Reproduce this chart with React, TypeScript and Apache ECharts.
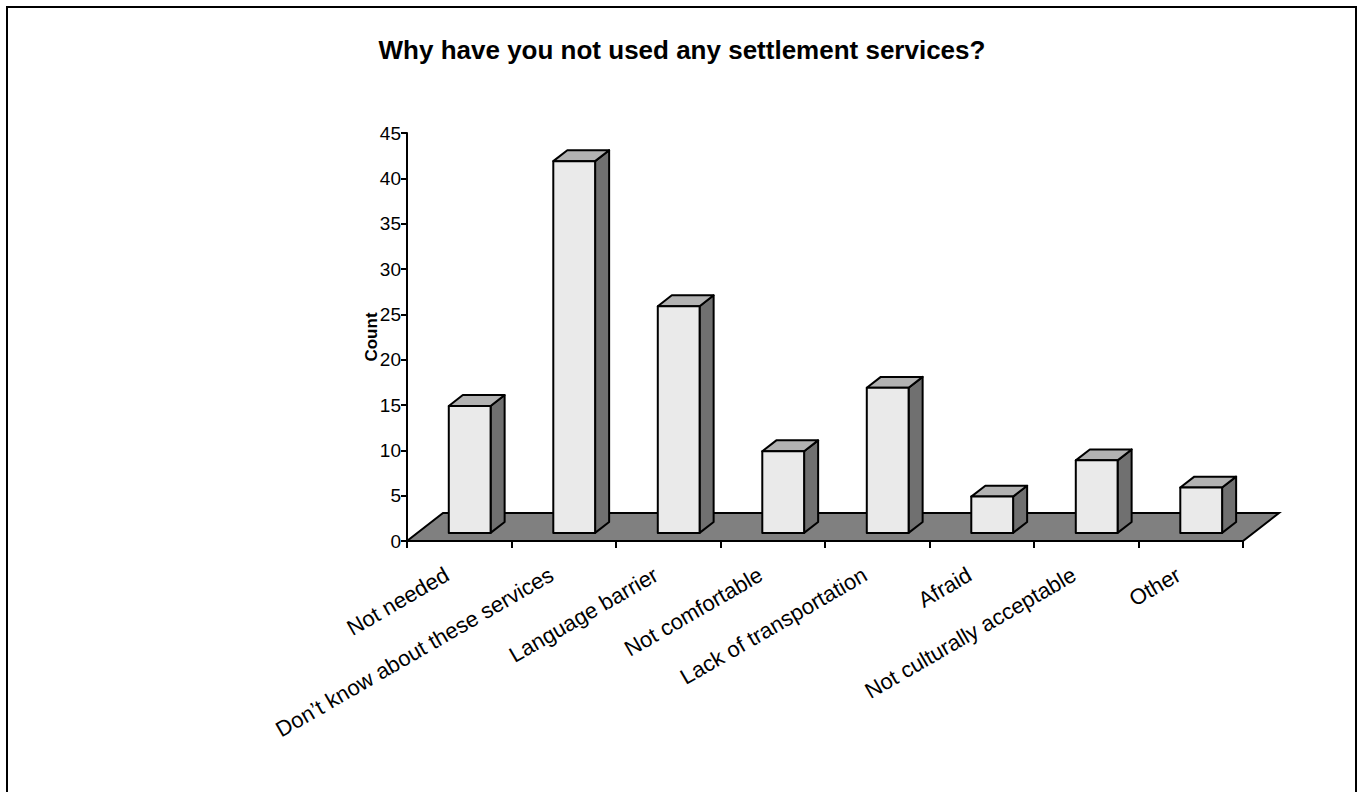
import React, { useEffect, useRef } from "react";
import * as echarts from "echarts";

const categories = [
  "Not needed",
  "Don’t know about these services",
  "Language barrier",
  "Not comfortable",
  "Lack of transportation",
  "Afraid",
  "Not culturally acceptable",
  "Other",
];
const counts = [14, 41, 25, 9, 16, 4, 8, 5];
const yTicks = { min: 0, max: 45, interval: 5 };
const titleText = "Why have you not used any settlement services?";
const yAxisName = "Count";

const FONT = "'Liberation Sans', Arial, Helvetica, sans-serif";
// floor depth (pixels, oblique projection)
const DX = 36;
const DY = -28;
const F1 = 0.29; // bar front plane fraction of depth
const F2 = 0.68; // bar back plane fraction of depth
const BAR_FRAC = 0.4;

export default function App() {
  const ref = useRef<HTMLDivElement>(null);
  useEffect(() => {
    if (!ref.current) return;
    const chart = echarts.init(ref.current, null, { renderer: "svg" });
    const n = categories.length;
    chart.setOption({
      animation: false,
      backgroundColor: "#ffffff",
      title: {
        text: titleText,
        left: "center",
        top: 32,
        textStyle: { fontFamily: FONT, fontSize: 26, fontWeight: "bold", color: "#000" },
      },
      graphic: [
        {
          type: "rect",
          shape: { x: 7, y: 7, width: 1349, height: 800 },
          style: { fill: "none", stroke: "#000", lineWidth: 2 },
          silent: true,
        },
      ],
      grid: { left: 407, right: 121, top: 133, bottom: 251, containLabel: false },
      xAxis: {
        type: "category",
        data: categories,
        boundaryGap: true,
        axisLine: { lineStyle: { color: "#000", width: 2 } },
        axisTick: { show: true, length: 7, lineStyle: { color: "#000", width: 2 } },
        axisLabel: {
          rotate: 30,
          interval: 0,
          margin: 25,
          padding: [0, 14, 0, 0],
          color: "#000",
          fontFamily: FONT,
          fontSize: 22,
        },
        splitLine: { show: false },
      },
      yAxis: {
        type: "value",
        min: yTicks.min,
        max: yTicks.max,
        interval: yTicks.interval,
        name: yAxisName,
        nameLocation: "middle",
        nameRotate: 90,
        nameGap: 27,
        nameMoveOverlap: false,
        nameTextStyle: { fontFamily: FONT, fontSize: 17, fontWeight: "bold", color: "#000" },
        axisLine: { show: true, lineStyle: { color: "#000", width: 2 } },
        axisTick: { show: true, length: 6, lineStyle: { color: "#000", width: 2 } },
        axisLabel: { color: "#000", fontFamily: FONT, fontSize: 19, margin: 6 },
        splitLine: { show: false },
      },
      series: [
        {
          type: "custom",
          name: "floor",
          clip: false,
          silent: true,
          data: [[0, 0]],
          encode: { x: 0, y: 1 },
          renderItem: (params: any, api: any) => {
            const bw = api.size([1, 0])[0];
            const p0 = api.coord([0, 0]);
            const p1 = api.coord([n - 1, 0]);
            const l = p0[0] - bw / 2;
            const r = p1[0] + bw / 2;
            const y = p0[1];
            return {
              type: "polygon",
              shape: { points: [[l, y], [r, y], [r + DX, y + DY], [l + DX, y + DY]] },
              style: { fill: "#808080", stroke: "#000", lineWidth: 2 },
            };
          },
        },
        {
          type: "custom",
          name: "Count",
          clip: false,
          data: counts.map((v, i) => [i, v]),
          encode: { x: 0, y: 1 },
          renderItem: (params: any, api: any) => {
            const idx = api.value(0);
            const v = api.value(1);
            const bw = api.size([1, 0])[0];
            const base = api.coord([idx, 0]);
            const top = api.coord([idx, v]);
            const w = bw * BAR_FRAC;
            const x = base[0] - w / 2 + DX * F1;
            const y = top[1] + DY * F1;
            const h = base[1] - top[1];
            const ddx = DX * (F2 - F1);
            const ddy = DY * (F2 - F1);
            const stroke = { stroke: "#000", lineWidth: 2, lineJoin: "round" };
            return {
              type: "group",
              children: [
                {
                  type: "polygon",
                  shape: { points: [[x + w, y], [x + w + ddx, y + ddy], [x + w + ddx, y + h + ddy], [x + w, y + h]] },
                  style: { fill: "#707070", ...stroke },
                },
                {
                  type: "polygon",
                  shape: { points: [[x, y], [x + w, y], [x + w + ddx, y + ddy], [x + ddx, y + ddy]] },
                  style: { fill: "#b2b2b2", ...stroke },
                },
                {
                  type: "rect",
                  shape: { x, y, width: w, height: h },
                  style: { fill: "#eaeaea", ...stroke },
                },
              ],
            };
          },
        },
      ],
    });
    return () => chart.dispose();
  }, []);
  return (
    <div
      ref={ref}
      style={{ position: "fixed", left: 0, top: 0, width: 1364, height: 792, background: "#fff" }}
    />
  );
}
